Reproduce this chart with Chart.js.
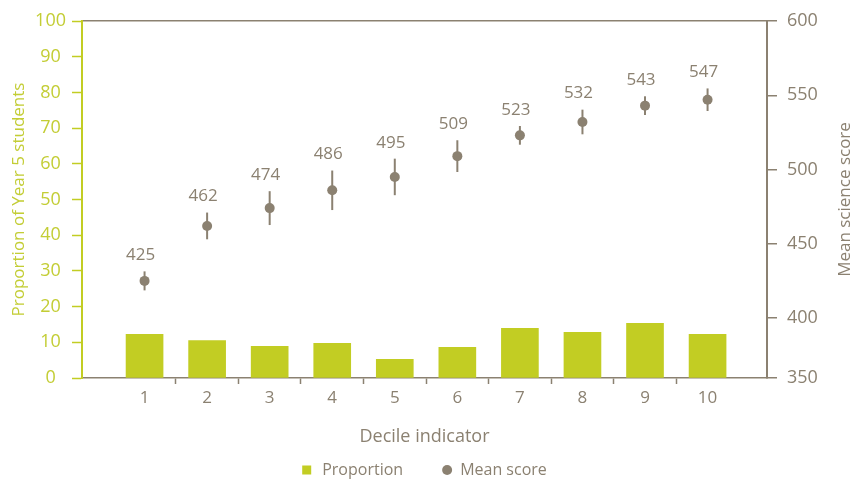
<!DOCTYPE html>
<html>
<head>
<meta charset="utf-8">
<script src="https://cdn.jsdelivr.net/npm/chart.js@4"></script>
<style>
  html, body { margin: 0; padding: 0; background: #fff; }
  #wrap { width: 855px; height: 480px; }
</style>
</head>
<body>
<div id="wrap"><canvas id="chart"></canvas></div>
<script>
const deciles = ['1', '2', '3', '4', '5', '6', '7', '8', '9', '10']
const proportion = [12.2, 10.5, 8.9, 9.7, 5.2, 8.6, 13.9, 12.8, 15.3, 12.2]
const meanScore = [425, 462, 474, 486, 495, 509, 523, 532, 543, 547]
const scoreError = [6.4, 9, 11.4, 13.3, 12.3, 10.7, 6.3, 8.3, 6.3, 7.6]
const proportionTicks = [0, 10, 20, 30, 40, 50, 60, 70, 80, 90, 100]
const scoreTicks = [350, 400, 450, 500, 550, 600]
// in the original the bottom "350" tick sits where ~360 would be
const scoreAxisBottom = 359.6

const green = '#c2cd23'
const greenText = '#c3cd35'
const brown = '#8b8171'
const clear = 'rgba(0,0,0,0)'

Chart.defaults.font.family = "'Open Sans', sans-serif"

const errorBars = {
  id: 'errorBars',
  beforeDatasetsDraw(chart) {
    const ctx = chart.ctx
    const meta = chart.getDatasetMeta(1)
    const y2 = chart.scales.y2
    ctx.save()
    ctx.strokeStyle = brown
    ctx.lineWidth = 2
    meta.data.forEach((pt, i) => {
      ctx.beginPath()
      ctx.moveTo(pt.x, y2.getPixelForValue(meanScore[i] + scoreError[i]))
      ctx.lineTo(pt.x, y2.getPixelForValue(meanScore[i] - scoreError[i]))
      ctx.stroke()
    })
    ctx.restore()
  },
  afterDatasetsDraw(chart) {
    const ctx = chart.ctx
    const meta = chart.getDatasetMeta(1)
    const y2 = chart.scales.y2
    ctx.save()
    ctx.fillStyle = brown
    ctx.font = "17px 'Open Sans', sans-serif"
    ctx.textAlign = 'center'
    ctx.textBaseline = 'middle'
    meta.data.forEach((pt, i) => {
      const top = y2.getPixelForValue(meanScore[i] + scoreError[i])
      ctx.fillText(String(meanScore[i]), pt.x - 4, top - 16)
    })
    ctx.restore()
  }
}

// right axis title reads bottom-to-top in the original, like the left one
const rightTitle = {
  id: 'rightTitle',
  afterDraw(chart) {
    const ctx = chart.ctx
    const area = chart.chartArea
    ctx.save()
    ctx.translate(845, (area.top + area.bottom) / 2)
    ctx.rotate(-Math.PI / 2)
    ctx.fillStyle = brown
    ctx.font = "17px 'Open Sans', sans-serif"
    ctx.textAlign = 'center'
    ctx.textBaseline = 'middle'
    ctx.fillText('Mean science score', 0, 0)
    ctx.restore()
  }
}

const bottomLegend = {
  id: 'bottomLegend',
  afterDraw(chart) {
    const ctx = chart.ctx
    const area = chart.chartArea
    const y = 470
    ctx.save()
    ctx.font = "16px 'Open Sans', sans-serif"
    ctx.textBaseline = 'middle'
    ctx.textAlign = 'left'
    const sets = chart.data.datasets
    const w1 = ctx.measureText(sets[0].label).width
    const w2 = ctx.measureText(sets[1].label).width
    const total = 9 + 11 + w1 + 39 + 10 + 8 + w2
    let x = (area.left + area.right) / 2 - total / 2
    ctx.fillStyle = green
    ctx.fillRect(x, y - 4.5, 9, 9)
    x += 20
    ctx.fillStyle = brown
    ctx.fillText(sets[0].label, x, y)
    x += w1 + 39
    ctx.beginPath()
    ctx.arc(x + 5, y, 5, 0, Math.PI * 2)
    ctx.fill()
    x += 18
    ctx.fillText(sets[1].label, x, y)
    ctx.restore()
  }
}

const chart = new Chart(document.getElementById('chart').getContext('2d'), {
  type: 'bar',
  data: {
    datasets: [
      {
        label: 'Proportion',
        data: deciles.map((d, i) => ({ x: i + 1, y: proportion[i] })),
        backgroundColor: green,
        barThickness: 37,
        xAxisID: 'x',
        yAxisID: 'y',
        order: 2
      },
      {
        type: 'line',
        label: 'Mean score',
        data: deciles.map((d, i) => ({ x: i + 1, y: meanScore[i] })),
        showLine: false,
        pointRadius: 5,
        pointHoverRadius: 5,
        pointBorderWidth: 0,
        pointBackgroundColor: brown,
        borderColor: brown,
        xAxisID: 'x',
        yAxisID: 'y2',
        order: 1
      }
    ]
  },
  plugins: [errorBars, rightTitle, bottomLegend],
  options: {
    responsive: true,
    maintainAspectRatio: false,
    animation: false,
    layout: { padding: { top: 21, bottom: 20, left: 0, right: 0 } },
    plugins: {
      legend: { display: false },
      tooltip: { enabled: false }
    },
    scales: {
      x: {
        type: 'linear',
        min: 0,
        max: 10.95,
        offset: false,
        afterBuildTicks: axis => {
          const ticks = []
          deciles.forEach((d, i) => {
            ticks.push({ value: i + 1 })
            if (i < deciles.length - 1) ticks.push({ value: i + 1.5 })
          })
          axis.ticks = ticks
        },
        afterFit: s => { s.height = 82 },
        ticks: {
          autoSkip: false,
          maxRotation: 0,
          padding: 4,
          color: brown,
          font: { size: 17 },
          callback: v => (Number.isInteger(v) ? deciles[v - 1] : '')
        },
        grid: {
          offset: false,
          drawOnChartArea: false,
          tickLength: 6,
          tickWidth: 1.5,
          tickColor: ctx => (ctx.tick && Number.isInteger(ctx.tick.value) ? clear : brown)
        },
        border: { color: brown, width: 1.5 },
        title: {
          display: true,
          text: 'Decile indicator',
          color: brown,
          font: { size: 18 },
          padding: { top: 0, bottom: 12 }
        }
      },
      y: {
        position: 'left',
        min: 0,
        max: 100,
        afterBuildTicks: axis => {
          axis.ticks = proportionTicks.map(v => ({ value: v }))
        },
        afterFit: s => { s.width = 82 },
        ticks: {
          color: greenText,
          font: { size: 18 },
          padding: 6,
          crossAlign: 'center'
        },
        grid: {
          drawOnChartArea: false,
          tickLength: 10,
          tickWidth: 1.5,
          tickColor: green
        },
        border: { color: green, width: 2 },
        title: {
          display: true,
          text: 'Proportion of Year 5 students',
          color: greenText,
          font: { size: 17 },
          padding: { top: 9, bottom: 0 }
        }
      },
      y2: {
        position: 'right',
        min: scoreAxisBottom,
        max: 600,
        afterBuildTicks: axis => {
          axis.ticks = scoreTicks.map((v, i) => ({ value: i === 0 ? axis.min : v }))
        },
        afterFit: s => { s.width = 88 },
        ticks: {
          color: brown,
          font: { size: 18 },
          padding: 10,
          callback: (v, i) => scoreTicks[i]
        },
        grid: {
          drawOnChartArea: true,
          lineWidth: 1.5,
          color: ctx => (ctx.tick && ctx.tick.value === 600 ? brown : clear),
          tickColor: brown,
          tickLength: 10,
          tickWidth: 1.5
        },
        border: { color: brown, width: 2 }
      }
    }
  }
})
</script>
</body>
</html>
